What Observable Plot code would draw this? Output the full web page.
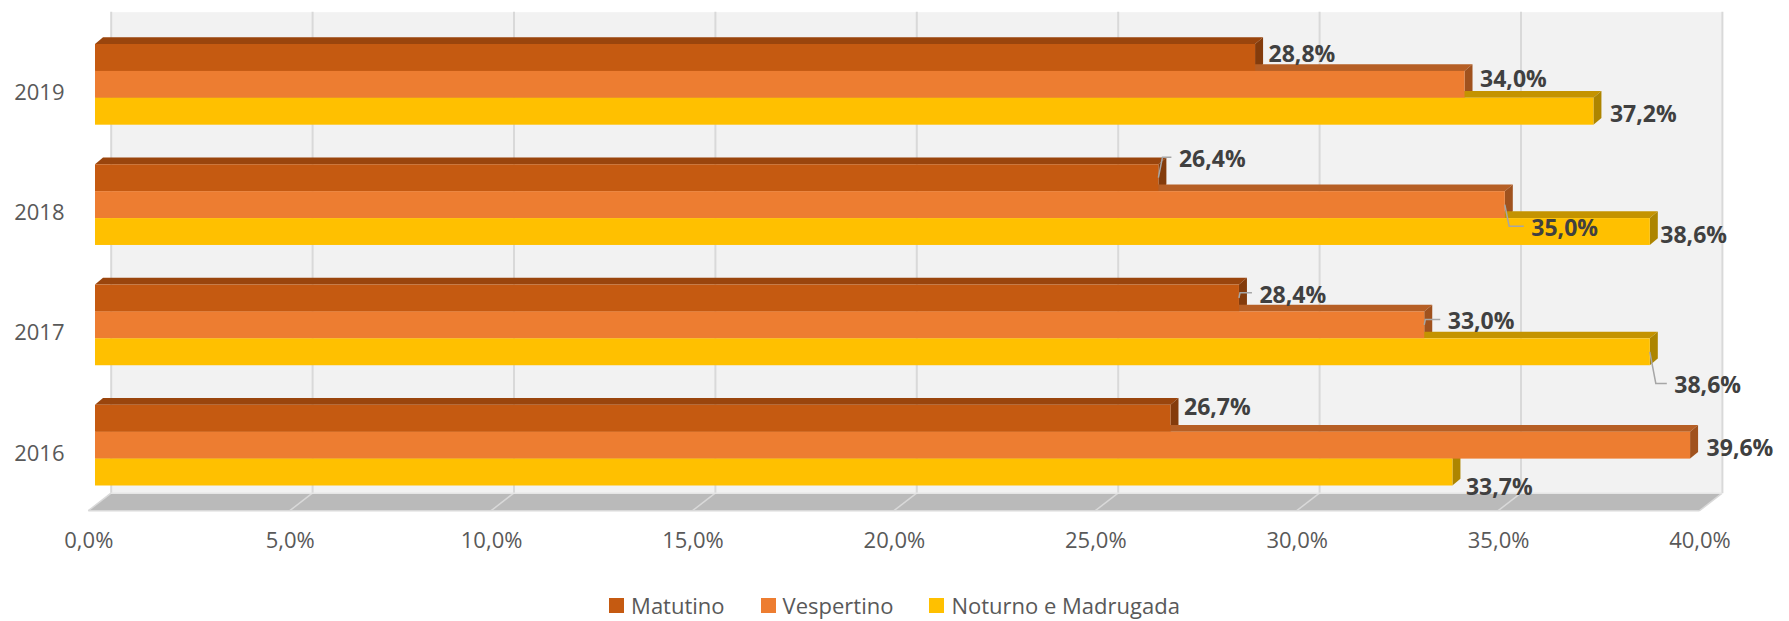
<!DOCTYPE html>
<html><head><meta charset="utf-8">
<script src="https://cdn.jsdelivr.net/npm/d3@7"></script>
<script src="https://cdn.jsdelivr.net/npm/@observablehq/plot@0.6"></script>
<style>
body{margin:0;background:#fff;font-family:"Open Sans",sans-serif;overflow:hidden}
#legend{display:flex;justify-content:center;align-items:center;height:36px;padding-top:2px;font-size:22px;color:#595959}
.item{display:flex;align-items:center;margin:0 18px}
.sw{width:15px;height:15px;margin-right:7px}
</style></head><body><div id="chart"></div><div id="legend"></div>
<script>
// ---- data ----
const years = ["2019", "2018", "2017", "2016"];
const seriesNames = ["Matutino", "Vespertino", "Noturno e Madrugada"];
const matutino = [28.8, 26.4, 28.4, 26.7];
const vespertino = [34.0, 35.0, 33.0, 39.6];
const noturno = [37.2, 38.6, 38.6, 33.7];
const xTicks = [0, 5, 10, 15, 20, 25, 30, 35, 40];

// ---- styles / layout ----
const frontColors = ["#C55A11", "#ED7D31", "#FFC000"];
const topColors = ["#9A450D", "#B65F25", "#C49300"];
const sideColors = ["#843C0C", "#A0521E", "#AD8500"];
const labelNudge = {"2019|1": [2, -2], "2019|2": [3, 6], "2018|0": [7, -15], "2018|1": [13, 27], "2018|2": [-3, 7],
  "2017|0": [7, 0], "2017|1": [10, 0], "2017|2": [11, 37], "2016|0": [0, -8], "2016|1": [3, 6], "2016|2": [0, 18]};
const withLeader = ["2018|0", "2018|1", "2017|0", "2017|1", "2017|2"];

const W = 1789, H = 585;
const mTop = 11.7, mBottom = 91.7, mLeft = 110.7, mRight = 67.3;
const wallDx = 15.7, floorFrontDx = -6.7, floorDepthY = 17.4;
const depthX = 8, depthY = 6.7, labelGap = 5;
const yRange = [44, 485.5], padInner = 0.329;
const step = (yRange[1] - yRange[0]) / (years.length - padInner);
const bw = step * (1 - padInner);
const h = bw / 3;

const seriesValues = [matutino, vespertino, noturno];
const rows = [];
years.forEach((y, j) => seriesNames.forEach((s, i) => rows.push({year: y, series: s, si: i, value: seriesValues[i][j]})));
const fmt = v => v.toFixed(1).replace(".", ",") + "%";
const nudgeOf = r => labelNudge[r.year + "|" + r.si] || [0, 0];

function floorMark(index, scales, values, dims) {
  const yb = dims.height - dims.marginBottom, yf = yb + floorDepthY;
  const xb = v => scales.x(v) + wallDx, xf = v => scales.x(v) + floorFrontDx;
  const g = d3.create("svg:g");
  g.append("polygon")
    .attr("points", [[xb(0), yb], [xb(40), yb], [xf(40), yf], [xf(0), yf]].join(" "))
    .attr("fill", "#bababa");
  for (const t of xTicks) {
    g.append("line").attr("x1", xb(t)).attr("y1", yb).attr("x2", xf(t)).attr("y2", yf)
      .attr("stroke", "#d9d9d9").attr("stroke-width", 1.5);
  }
  g.append("line").attr("x1", xb(0)).attr("y1", yb).attr("x2", xb(40)).attr("y2", yb).attr("stroke", "#e6e6e6").attr("stroke-width", 1.5);
  g.append("line").attr("x1", xf(0)).attr("y1", yf).attr("x2", xf(40)).attr("y2", yf).attr("stroke", "#d9d9d9").attr("stroke-width", 1.5);
  return g.node();
}

function facesMark(index, scales) {
  const g = d3.create("svg:g");
  for (const r of rows) {
    const x0 = scales.x(0), x1 = scales.x(r.value);
    const y0 = scales.y(r.year) + r.si * h, y1 = y0 + h;
    g.append("polygon")
      .attr("points", [[x0, y0], [x1, y0], [x1 + depthX, y0 - depthY], [x0 + depthX, y0 - depthY]].join(" "))
      .attr("fill", topColors[r.si]);
    g.append("polygon")
      .attr("points", [[x1, y0], [x1 + depthX, y0 - depthY], [x1 + depthX, y1 - depthY], [x1, y1]].join(" "))
      .attr("fill", sideColors[r.si]);
  }
  return g.node();
}

function leaderMark(index, scales) {
  const g = d3.create("svg:g");
  for (const r of rows.filter(r => withLeader.includes(r.year + "|" + r.si))) {
    const n = nudgeOf(r);
    const xe = scales.x(r.value);
    const yBar = scales.y(r.year) + r.si * h + h / 2;
    const yLab = scales.y(r.year) + bw / 2 + (r.si - 1) * h - depthY / 2 + n[1] - 2;
    const xLab = xe + depthX + labelGap + n[0] - 7;
    const xMid = xe + Math.min(6, Math.abs(yLab - yBar) / 5);
    g.append("polyline")
      .attr("points", [[xe, yBar], [xMid, yLab], [xLab, yLab]].join(" "))
      .attr("fill", "none").attr("stroke", "#a6a6a6").attr("stroke-width", 1.5);
  }
  return g.node();
}

const marks = [
  Plot.frame({fill: "#f2f2f2", stroke: "none"}),
  Plot.ruleX(xTicks, {x: d => d, dx: wallDx, stroke: "#d9d9d9", strokeWidth: 2}),
  floorMark,
  facesMark,
  ...seriesNames.map((s, i) => Plot.barX(rows.filter(r => r.si === i), {
    x: "value", y: "year", fill: frontColors[i], insetTop: i * h, insetBottom: (2 - i) * h
  })),
  leaderMark,
  ...rows.map(r => {
    const n = nudgeOf(r);
    return Plot.text([r], {
      x: "value", y: "year", text: d => fmt(d.value), textAnchor: "start",
      dx: depthX + labelGap + n[0], dy: (r.si - 1) * h - depthY / 2 + n[1],
      fontWeight: "bold", fontSize: 23, fill: "#404040"
    });
  }),
  Plot.text(years, {y: d => d, frameAnchor: "left", dx: -(mLeft - 64), dy: 8, textAnchor: "end",
    fontSize: 22, fill: "#595959"}),
  Plot.text(xTicks, {x: d => d, frameAnchor: "bottom", dx: floorFrontDx, dy: 54, text: d => fmt(d),
    fontSize: 22, fill: "#595959"})
];

const chart = Plot.plot({
  width: W, height: H,
  marginTop: mTop, marginBottom: mBottom, marginLeft: mLeft, marginRight: mRight,
  style: {fontFamily: "Open Sans", background: "#fff"},
  x: {domain: [0, 40], range: [95, 95 + 40 * 40.28], axis: null},
  y: {type: "band", domain: years, range: yRange, paddingInner: padInner, paddingOuter: 0, align: 0.5, round: false, axis: null},
  marks
});
document.getElementById("chart").appendChild(chart);

const legend = document.getElementById("legend");
seriesNames.forEach((s, i) => {
  const it = document.createElement("div"); it.className = "item";
  const sw = document.createElement("div"); sw.className = "sw"; sw.style.background = frontColors[i];
  const tx = document.createElement("span"); tx.textContent = s;
  it.appendChild(sw); it.appendChild(tx); legend.appendChild(it);
});
</script></body></html>
